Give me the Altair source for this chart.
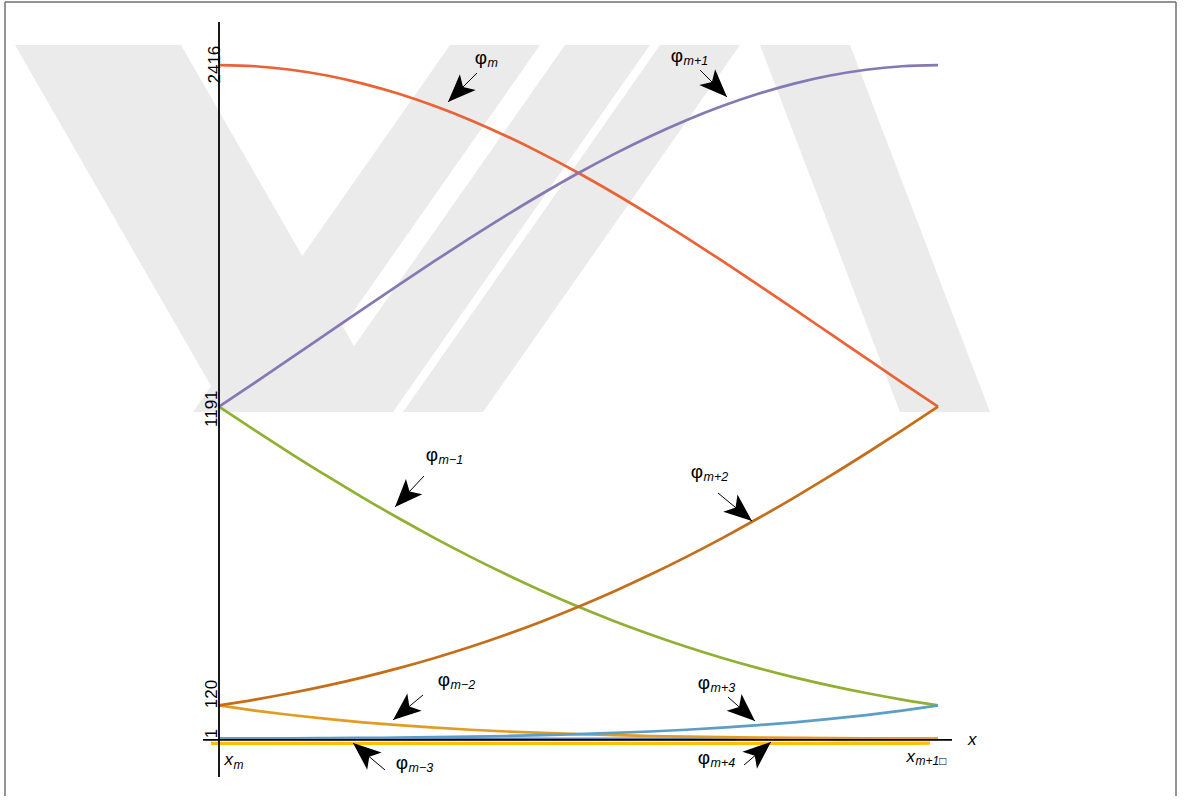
import math
import altair as alt
import pandas as pd

# parameter on the knot interval: t = (x - x_m) / h
t = [0.0, 0.05, 0.1, 0.15, 0.2, 0.25, 0.3, 0.35, 0.4, 0.45, 0.5,
     0.55, 0.6, 0.65, 0.7, 0.75, 0.8, 0.85, 0.9, 0.95, 1.0]

# septic B-spline basis values on [x_m, x_m+1]
phi_m_minus3 = [1, 0.7, 0.5, 0.3, 0.2, 0.1, 0.1, 0, 0, 0, 0,
                0, 0, 0, 0, 0, 0, 0, 0, 0, 0]
phi_m_minus2 = [120, 101.6, 85.6, 71.6, 59.5, 49.2, 40.4, 32.9, 26.6, 21.4, 17.0,
                13.4, 10.5, 8.2, 6.3, 4.8, 3.6, 2.7, 1.9, 1.4, 1]
phi_m_minus1 = [1191, 1106.1, 1023.3, 942.9, 865.4, 791.0, 720.1, 652.8, 589.2, 529.6, 473.9,
                422.2, 374.4, 330.4, 290.3, 253.8, 220.8, 191.1, 164.5, 140.9, 120]
phi_m = [2416, 2411.8, 2399.3, 2378.5, 2349.7, 2313.2, 2269.2, 2218.4, 2161.0, 2097.7, 2029.1,
         1955.7, 1878.2, 1797.3, 1713.7, 1627.9, 1540.8, 1452.9, 1365.0, 1277.5, 1191]
phi_m_plus1 = [1191, 1277.5, 1365.0, 1452.9, 1540.8, 1627.9, 1713.7, 1797.3, 1878.2, 1955.7, 2029.1,
               2097.7, 2161.0, 2218.4, 2269.2, 2313.2, 2349.7, 2378.5, 2399.3, 2411.8, 2416]
phi_m_plus2 = [120, 140.9, 164.5, 191.1, 220.8, 253.8, 290.3, 330.4, 374.4, 422.2, 473.9,
               529.6, 589.2, 652.8, 720.1, 791.0, 865.4, 942.9, 1023.3, 1106.1, 1191]
phi_m_plus3 = [1, 1.4, 1.9, 2.7, 3.6, 4.8, 6.3, 8.2, 10.5, 13.4, 17.0,
               21.4, 26.6, 32.9, 40.4, 49.2, 59.5, 71.6, 85.6, 101.6, 120]
phi_m_plus4 = [0, 0, 0, 0, 0, 0, 0, 0, 0, 0, 0,
               0, 0, 0, 0.1, 0.1, 0.2, 0.3, 0.5, 0.7, 1]

subscripts = ["m−3", "m−2", "m−1", "m", "m+1", "m+2", "m+3", "m+4"]
colors = ["#5E81B5", "#E19C24", "#8FB032", "#EB6235",
          "#8778B3", "#C56E1A", "#5D9EC7", "#FFBF00"]
series = [phi_m_minus3, phi_m_minus2, phi_m_minus1, phi_m,
          phi_m_plus1, phi_m_plus2, phi_m_plus3, phi_m_plus4]

# annotation arrows: tip and tail in (t, value), label anchor in (t, value)
tip_t = [0.1864, 0.2420, 0.2448, 0.3185, 0.7065, 0.7413, 0.7455, 0.7677]
tip_v = [-14.7, 67.8, 831.5, 2283.6, 2301.5, 781.3, 64.2, -11.1]
tail_t = [0.2309, 0.2837, 0.2851, 0.3588, 0.6690, 0.6940, 0.7079, 0.7302]
tail_v = [-111.5, 157.4, 942.6, 2387.6, 2398.4, 881.7, 150.2, -93.6]
label_t = [0.2629, 0.3213, 0.3046, 0.3727, 0.6453, 0.6732, 0.6829, 0.6829]
label_v = [-118.7, 178.9, 985.7, 2409.1, 2416.3, 924.7, 168.2, -100.8]

y_ticks = [1, 120, 1191, 2416]

# background emblem: slanted bands, edges at the top and bottom rows
band_top_v, band_bottom_v = 2488.0, 1172.1
band_top_left = [-0.2837, 0.3213, 0.4812, 0.6134, 0.7524]
band_top_right = [-0.0529, 0.4465, 0.5994, 0.7246, 0.8776]
band_bottom_left = [0.0097, -0.0362, 0.1238, 0.2559, 0.9471]
band_bottom_right = [0.2406, 0.0890, 0.2420, 0.3672, 1.0723]

W, H = 1171, 794
X_DOM = [-0.29764, 1.33102]
Y_DOM = [-204.7, 2642.2]
FONT = "Liberation Sans"

xs = alt.Scale(domain=X_DOM, nice=False, zero=False)
ys = alt.Scale(domain=Y_DOM, nice=False, zero=False)


def X(field):
    return alt.X(field, type="quantitative", scale=xs, axis=None)


def Y(field):
    return alt.Y(field, type="quantitative", scale=ys, axis=None)


# emblem bands
brow = []
for i in range(len(band_top_left)):
    brow.append({"b": i, "v": band_top_v, "l": band_top_left[i], "r": band_top_right[i]})
    brow.append({"b": i, "v": band_bottom_v, "l": band_bottom_left[i], "r": band_bottom_right[i]})
emblem = alt.Chart(pd.DataFrame(brow)).mark_area(
    orient="horizontal", color="#EBEBEB", opacity=1
).encode(y=Y("v"), x=X("l"), x2="r", detail="b:N")

rows = []
for name, vals in zip(subscripts, series):
    for ti, vi in zip(t, vals):
        rows.append({"t": ti, "v": vi, "s": name})
curves = pd.DataFrame(rows)

color = alt.Color("s:N", scale=alt.Scale(domain=subscripts, range=colors), legend=None)

main = alt.Chart(curves[curves.s != "m+4"]).mark_line(
    interpolate="monotone", strokeWidth=2.7
).encode(x=X("t"), y=Y("v"), color=color, detail="s:N")

yellow = alt.Chart(curves[curves.s == "m+4"]).mark_line(
    interpolate="monotone", strokeWidth=3.4, xOffset=-8, yOffset=4.5
).encode(x=X("t"), y=Y("v"), color=color)

# axes drawn through the origin
yaxis = alt.Chart(pd.DataFrame({"t": [0.0], "a": [-136.6], "b": [2570.5]})).mark_rule(
    color="black", strokeWidth=1.8
).encode(x=X("t"), y=Y("a"), y2="b")
xaxis = alt.Chart(pd.DataFrame({"a": [-0.0223], "b": [1.0195], "v": [0.0]})).mark_rule(
    color="black", strokeWidth=1.8, yOffset=1
).encode(x=X("a"), x2="b", y=Y("v"))

# frame around the figure
one = pd.DataFrame({"k": [0]})
frame_style = dict(color="#707070", strokeWidth=1.5)
frame_left = alt.Chart(one).mark_rule(**frame_style).encode(
    x=alt.value(0), y=alt.value(0), y2=alt.value("height"))
frame_right = alt.Chart(one).mark_rule(**frame_style).encode(
    x=alt.value("width"), y=alt.value(0), y2=alt.value("height"))
frame_top = alt.Chart(one).mark_rule(**frame_style).encode(
    x=alt.value(0), x2=alt.value("width"), y=alt.value(0))

# rotated tick labels on the vertical axis
tick_shift = {1: (5, -2), 120: (11.5, -2), 1191: (-2, -2), 2416: (0.5, 1)}
tick_layers = []
for val in y_ticks:
    ddx, ddy = tick_shift[val]
    tick_layers.append(
        alt.Chart(pd.DataFrame({"t": [0.0], "v": [val], "lab": [str(val)]}))
        .mark_text(angle=270, align="center", baseline="alphabetic", font=FONT,
                   fontSize=17, color="black", dx=ddx, dy=ddy)
        .encode(x=X("t"), y=Y("v"), text="lab:N")
    )


# node labels under the horizontal axis
def node_label(tpos, main_dx, main_dy, sub, sub_dy):
    d = pd.DataFrame({"t": [tpos], "v": [0.0], "a": ["x"], "b": [sub]})
    base = alt.Chart(d)
    xm = base.mark_text(align="right", baseline="alphabetic", font=FONT, fontSize=17,
                        fontStyle="italic", dx=main_dx, dy=main_dy).encode(
        x=X("t"), y=Y("v"), text="a:N")
    sm = base.mark_text(align="left", baseline="alphabetic", font=FONT, fontSize=12,
                        fontStyle="italic", dx=main_dx + 0.5, dy=sub_dy).encode(
        x=X("t"), y=Y("v"), text="b:N")
    return [xm, sm]


nodes = node_label(0.0, 14, 26, "m", 30) + node_label(1.0, -23, 23, "m+1□", 26.5)
xlab = alt.Chart(pd.DataFrame({"t": [1.0], "v": [0.0], "a": ["x"]})).mark_text(
    align="left", baseline="alphabetic", font=FONT, fontSize=17, fontStyle="italic",
    dx=30, dy=6).encode(x=X("t"), y=Y("v"), text="a:N")

# arrows
sx = W / (X_DOM[1] - X_DOM[0])
sy = H / (Y_DOM[1] - Y_DOM[0])
angles = []
for a, b, c, d in zip(tip_t, tip_v, tail_t, tail_v):
    dxp = (a - c) * sx
    dyp = -(b - d) * sy
    angles.append(math.degrees(math.atan2(dxp, -dyp)) % 360)

arrows = pd.DataFrame({
    "tt": tip_t, "tv": tip_v, "lt": tail_t, "lv": tail_v,
    "ang": angles, "s": subscripts,
    "xt": label_t, "xv": label_v, "phi": ["φ"] * len(subscripts),
})

shafts = alt.Chart(arrows).mark_rule(color="black", strokeWidth=1).encode(
    x=X("lt"), y=Y("lv"), x2="tt", y2="tv")
HEAD = "M0,0 L0.4,1 L0,0.76 L-0.4,1 Z"
heads = alt.Chart(arrows).mark_point(
    shape=HEAD, filled=True, color="black", opacity=1, size=3136, strokeWidth=0
).encode(x=X("tt"), y=Y("tv"), angle=alt.Angle("ang:Q", scale=None))

phi_text = alt.Chart(arrows).mark_text(
    align="right", baseline="alphabetic", font=FONT, fontSize=19, dy=-3, color="black"
).encode(x=X("xt"), y=Y("xv"), text="phi:N")
sub_text = alt.Chart(arrows).mark_text(
    align="left", baseline="alphabetic", font=FONT, fontSize=12.5, fontStyle="italic",
    dx=0.5, color="black"
).encode(x=X("xt"), y=Y("xv"), text="s:N")

chart = alt.layer(
    emblem,
    frame_left, frame_right, frame_top,
    main, yellow, yaxis, xaxis,
    *tick_layers, *nodes, xlab,
    shafts, heads, phi_text, sub_text,
).properties(
    width=W, height=H,
    padding={"left": 5, "top": 2, "right": 16, "bottom": 0},
    autosize=alt.AutoSizeParams(type="none"),
    background="white",
).configure_view(stroke=None)

chart.save("out.html", embed_options={"renderer": "svg", "actions": False})
